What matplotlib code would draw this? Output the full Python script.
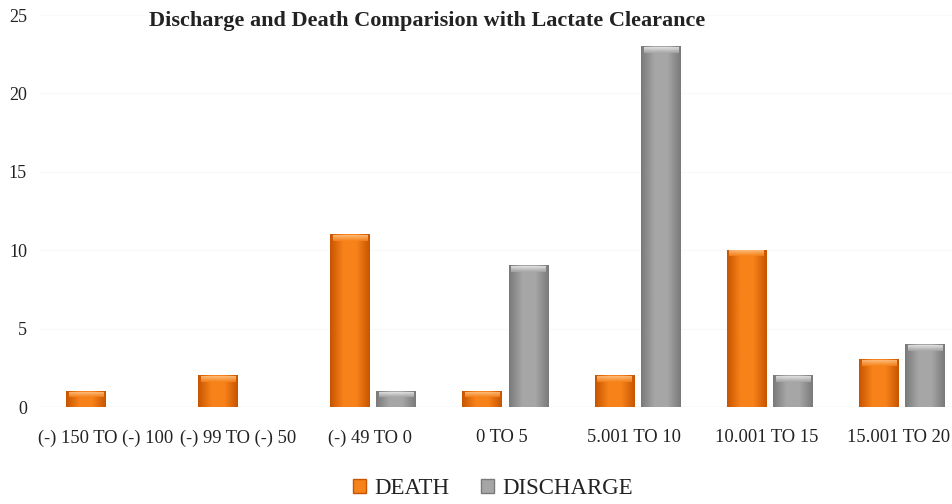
import numpy as np
import matplotlib
matplotlib.use("Agg")
import matplotlib.pyplot as plt
from matplotlib.colors import LinearSegmentedColormap
from matplotlib.patches import Patch

categories = ["(-) 150 TO (-) 100", "(-) 99 TO (-) 50", "(-) 49 TO 0", "0 TO 5",
              "5.001 TO 10", "10.001 TO 15", "15.001 TO 20"]
death = [1, 2, 11, 1, 2, 10, 3]
discharge = [0, 0, 1, 9, 23, 2, 4]
yticks = [0, 5, 10, 15, 20, 25]

plt.rcParams['font.family'] = ['Liberation Serif', 'DejaVu Serif']

orange_dark, orange_light, orange_top = '#c85500', '#f7821a', '#ffc68a'
grey_dark, grey_light, grey_top = '#7a7a7a', '#a6a6a6', '#ececec'


def shade(ax, bars, dark, light, top):
    # horizontal cylinder-like gradient with a lighter bevel on top
    cmap = LinearSegmentedColormap.from_list('s', [dark, light, light, dark])
    top_cmap = LinearSegmentedColormap.from_list('t', [light, top])
    for b in bars:
        x, y = b.get_xy()
        w, h = b.get_width(), b.get_height()
        if h <= 0:
            continue
        ax.imshow(np.atleast_2d(np.linspace(0, 1, 64)), cmap=cmap, aspect='auto',
                  extent=[x, x + w, y, y + h], zorder=3, interpolation='bilinear')
        th = min(0.4, h * 0.35)
        ax.imshow(np.linspace(0, 1, 32).reshape(-1, 1)[::-1], cmap=top_cmap, aspect='auto',
                  extent=[x + w * 0.07, x + w * 0.93, y + h - th, y + h - 0.06], zorder=4,
                  interpolation='bilinear', alpha=0.85)
        b.set_visible(False)


fig = plt.figure(figsize=(9.52, 5.04), dpi=100)
ax = fig.add_axes([39.5 / 952, 97 / 504, (952 - 39.5) / 952, 392 / 504])

x = np.arange(len(categories))
w = 0.30
b1 = ax.bar(x - 0.15, death, w, color=orange_light, zorder=3)
b2 = ax.bar(x + 0.20, discharge, w, color=grey_light, zorder=3)
shade(ax, b1, orange_dark, orange_light, orange_top)
shade(ax, b2, grey_dark, grey_light, grey_top)

ax.set_xlim(-0.5, 6.405)
ax.set_ylim(0, 25)
ax.set_yticks(yticks)
ax.set_xticks(x)
ax.set_xticklabels(categories)
ax.tick_params(length=0, colors='#222222')
ax.tick_params(axis='y', pad=9, labelsize=13)
ax.tick_params(axis='x', pad=16, labelsize=13.3)
ax.grid(axis='y', color='#f9f9f9', linewidth=0.8, zorder=0)
ax.axhline(0, color='#eeeeee', linewidth=1, zorder=1)
for s in ax.spines.values():
    s.set_visible(False)

fig.text(427 / 952, 1 - 21 / 504, "Discharge and Death Comparision with Lactate Clearance",
         ha='center', va='center', fontsize=16, fontweight='bold', color='#222222')

handles = [Patch(facecolor=orange_light, edgecolor=orange_dark, label='DEATH'),
           Patch(facecolor=grey_light, edgecolor=grey_dark, label='DISCHARGE')]
fig.legend(handles=handles, loc='center', bbox_to_anchor=(493 / 952, 15 / 504), ncol=2,
           frameon=False, fontsize=16.5, handlelength=0.55, handleheight=0.55,
           handletextpad=0.35, columnspacing=1.4, labelcolor='#222222')

fig.savefig('out.png', dpi=100)
